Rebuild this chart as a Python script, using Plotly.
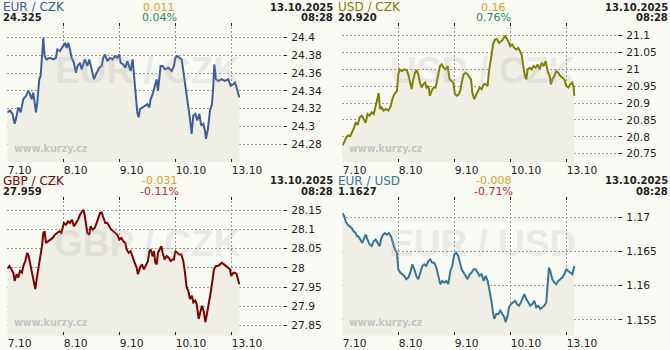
import plotly.graph_objects as go

# ---------------- data ----------------
day_labels = ["7.10", "8.10", "9.10", "10.10", "13.10"]
day_ticks = [0, 1, 2, 3, 4]

eurczk_t = [0.000,0.048,0.095,0.131,0.167,0.196,0.238,0.286,0.333,0.375,0.405,0.435,0.464,0.494,0.512,0.536,0.571,0.595,0.619,0.643,0.667,0.702,0.762,0.821,0.869,0.893,0.940,1.000,1.030,1.060,1.089,1.119,1.149,1.190,1.226,1.256,1.298,1.327,1.357,1.387,1.429,1.464,1.506,1.548,1.583,1.607,1.643,1.685,1.714,1.744,1.786,1.833,1.881,1.923,1.964,2.000,2.024,2.071,2.107,2.143,2.179,2.202,2.238,2.274,2.298,2.321,2.345,2.369,2.417,2.458,2.500,2.536,2.560,2.595,2.619,2.643,2.667,2.690,2.714,2.738,2.774,2.815,2.875,2.935,2.976,3.000,3.036,3.083,3.113,3.143,3.173,3.202,3.232,3.262,3.292,3.321,3.357,3.393,3.429,3.464,3.500,3.530,3.548,3.583,3.619,3.655,3.679,3.696,3.726,3.768,3.827,3.887,3.946,3.988,4.036,4.065,4.095,4.125,4.143]
eurczk_v = [24.3159,24.3178,24.3141,24.3030,24.3122,24.3215,24.3159,24.3307,24.3344,24.3400,24.3363,24.3307,24.3381,24.3196,24.3159,24.3270,24.3530,24.3567,24.3752,24.3993,24.3789,24.3752,24.3770,24.3752,24.3770,24.3863,24.3844,24.3900,24.3937,24.3881,24.3937,24.3863,24.3770,24.3715,24.3604,24.3678,24.3715,24.3641,24.3696,24.3752,24.3678,24.3752,24.3641,24.3530,24.3585,24.3622,24.3659,24.3678,24.3770,24.3807,24.3733,24.3770,24.3752,24.3789,24.3770,24.3807,24.3715,24.3696,24.3659,24.3733,24.3678,24.3622,24.3752,24.3493,24.3344,24.3159,24.3104,24.3196,24.3215,24.3233,24.3252,24.3215,24.3307,24.3363,24.3419,24.3493,24.3530,24.3400,24.3567,24.3678,24.3678,24.3641,24.3659,24.3622,24.3678,24.3770,24.3789,24.3770,24.3752,24.3622,24.3493,24.3344,24.3233,24.3085,24.2919,24.3122,24.3141,24.3067,24.3141,24.3011,24.3030,24.2956,24.2863,24.2974,24.3178,24.3252,24.3456,24.3696,24.3530,24.3511,24.3530,24.3511,24.3530,24.3456,24.3474,24.3493,24.3437,24.3381,24.3326]

usdczk_t = [0.000,0.036,0.071,0.107,0.143,0.179,0.214,0.238,0.274,0.310,0.345,0.381,0.417,0.452,0.488,0.524,0.560,0.583,0.619,0.649,0.673,0.702,0.738,0.774,0.821,0.869,0.893,0.929,0.976,1.000,1.024,1.060,1.107,1.149,1.179,1.214,1.238,1.262,1.298,1.327,1.357,1.387,1.417,1.446,1.476,1.506,1.536,1.565,1.595,1.631,1.667,1.690,1.714,1.744,1.774,1.810,1.845,1.881,1.917,1.952,1.982,2.012,2.048,2.083,2.107,2.131,2.167,2.202,2.238,2.274,2.298,2.321,2.357,2.381,2.417,2.452,2.488,2.524,2.560,2.595,2.619,2.643,2.667,2.690,2.726,2.762,2.798,2.833,2.869,2.905,2.935,2.964,3.000,3.036,3.071,3.107,3.143,3.173,3.202,3.232,3.262,3.286,3.310,3.345,3.381,3.417,3.452,3.488,3.524,3.560,3.595,3.631,3.667,3.702,3.726,3.750,3.786,3.821,3.857,3.893,3.929,3.964,4.000,4.036,4.071,4.107,4.131,4.143]
usdczk_v = [20.7745,20.7843,20.7990,20.8039,20.8020,20.8137,20.8284,20.8431,20.8353,20.8578,20.8627,20.8529,20.8412,20.8676,20.8627,20.8725,20.8676,20.8824,20.9118,20.9294,20.8824,20.8873,20.8775,20.8824,20.8775,20.8922,20.9118,20.9265,20.9363,20.9853,21.0000,20.9951,21.0000,20.9980,20.9853,20.9608,20.9412,20.9657,20.9902,20.9980,20.9853,20.9608,20.9461,20.9559,20.9608,20.9461,20.9510,20.9216,20.9363,20.9461,20.9461,20.9657,20.9902,21.0098,21.0147,21.0049,21.0000,21.0098,20.9706,20.9657,20.9608,20.9265,20.9216,20.9265,20.9363,20.9608,20.9853,20.9902,20.9853,20.9755,20.9706,20.9314,20.9118,20.9216,20.9363,20.9461,20.9412,20.9559,20.9559,20.9510,20.9951,21.0147,21.0441,21.0735,21.0882,21.0902,21.0784,21.0833,21.0882,21.1000,21.0931,21.0833,21.0686,21.0735,21.0637,21.0588,21.0637,21.0539,21.0441,21.0098,20.9804,20.9706,21.0000,21.0049,21.0000,21.0098,21.0049,21.0147,21.0000,21.0196,21.0098,21.0245,20.9951,20.9804,20.9559,20.9706,20.9804,20.9951,20.9902,20.9804,20.9755,20.9706,20.9510,20.9461,20.9559,20.9608,20.9461,20.9216]

gbpczk_t = [0.000,0.036,0.071,0.107,0.131,0.167,0.196,0.226,0.262,0.286,0.321,0.357,0.381,0.405,0.429,0.452,0.476,0.500,0.524,0.560,0.595,0.619,0.643,0.667,0.690,0.732,0.774,0.810,0.851,0.893,0.929,0.964,0.988,1.012,1.048,1.083,1.119,1.155,1.190,1.226,1.262,1.298,1.333,1.357,1.381,1.405,1.429,1.464,1.488,1.524,1.560,1.595,1.631,1.655,1.685,1.714,1.750,1.786,1.821,1.857,1.893,1.929,1.964,2.000,2.036,2.071,2.107,2.131,2.167,2.202,2.238,2.274,2.310,2.333,2.369,2.405,2.440,2.476,2.512,2.536,2.560,2.595,2.619,2.643,2.667,2.690,2.726,2.750,2.774,2.810,2.845,2.881,2.917,2.952,2.976,3.000,3.036,3.071,3.107,3.143,3.173,3.202,3.232,3.262,3.298,3.321,3.357,3.381,3.417,3.440,3.476,3.512,3.536,3.560,3.595,3.631,3.667,3.690,3.726,3.762,3.798,3.833,3.869,3.905,3.940,3.976,4.000,4.036,4.071,4.095,4.119,4.143]
gbpczk_v = [27.9978,28.0047,27.9961,27.9875,27.9660,27.9832,27.9746,27.9918,27.9875,28.0047,28.0176,28.0391,28.0305,28.0133,27.9918,27.9789,27.9531,27.9445,27.9703,28.0004,28.0391,28.0563,28.0907,28.0950,28.0649,28.0692,28.0735,28.0778,28.0864,28.0924,28.0950,28.0907,28.1079,28.1165,28.1122,28.1208,28.1165,28.1251,28.1079,28.1165,28.1251,28.1380,28.1466,28.1509,28.1380,28.1165,28.0907,28.0864,28.1079,28.0993,28.1036,28.1165,28.1294,28.1423,28.1440,28.1294,28.1165,28.1165,28.1079,28.0993,28.0950,28.0907,28.0864,28.0735,28.0778,28.0692,28.0649,28.0477,28.0391,28.0434,28.0262,28.0133,28.0004,27.9832,28.0004,28.0090,27.9961,28.0090,28.0176,28.0434,28.0477,28.0305,28.0434,28.0133,28.0090,28.0391,28.0520,28.0563,28.0391,28.0219,28.0305,28.0262,28.0176,28.0219,28.0219,28.0434,28.0391,28.0348,28.0348,28.0176,27.9875,27.9488,27.9402,27.9187,27.9273,27.9101,27.9144,27.9058,27.8671,27.8843,27.9015,27.8843,27.8585,27.8757,27.9015,27.9359,27.9703,27.9961,28.0047,28.0047,28.0090,28.0133,28.0090,28.0047,28.0004,27.9961,27.9789,27.9875,27.9875,27.9832,27.9703,27.9574]

eurusd_t = [0.000,0.036,0.060,0.095,0.131,0.167,0.202,0.238,0.262,0.286,0.321,0.357,0.393,0.417,0.452,0.488,0.524,0.560,0.595,0.631,0.667,0.690,0.726,0.762,0.798,0.833,0.869,0.905,0.940,0.976,1.000,1.036,1.071,1.107,1.143,1.179,1.214,1.250,1.286,1.321,1.357,1.393,1.429,1.464,1.500,1.536,1.571,1.607,1.643,1.679,1.714,1.750,1.786,1.821,1.857,1.893,1.929,1.964,2.000,2.036,2.071,2.107,2.131,2.167,2.202,2.238,2.274,2.310,2.345,2.381,2.417,2.452,2.488,2.524,2.560,2.595,2.619,2.643,2.667,2.690,2.714,2.750,2.786,2.821,2.857,2.893,2.917,2.952,2.976,3.012,3.048,3.083,3.119,3.155,3.190,3.226,3.250,3.286,3.321,3.357,3.393,3.429,3.464,3.500,3.536,3.571,3.607,3.643,3.667,3.690,3.714,3.750,3.786,3.821,3.857,3.893,3.929,3.964,4.000,4.036,4.071,4.107,4.131,4.143]
eurusd_v = [1.17063,1.17015,1.16942,1.16894,1.16869,1.16845,1.16797,1.16773,1.16724,1.16724,1.16676,1.16627,1.16700,1.16748,1.16676,1.16603,1.16579,1.16652,1.16676,1.16627,1.16579,1.16676,1.16748,1.16773,1.16748,1.16773,1.16724,1.16627,1.16531,1.16482,1.16240,1.16192,1.16168,1.16144,1.16095,1.16119,1.16192,1.16313,1.16240,1.16144,1.16095,1.16192,1.16289,1.16313,1.16289,1.16361,1.16385,1.16337,1.16337,1.16265,1.16119,1.16023,1.16071,1.16047,1.16071,1.16023,1.16216,1.16289,1.16458,1.16482,1.16434,1.16337,1.16240,1.16192,1.16144,1.16095,1.16168,1.16192,1.16240,1.16240,1.16192,1.16144,1.16168,1.16071,1.16144,1.16071,1.15974,1.15877,1.15756,1.15611,1.15515,1.15587,1.15587,1.15636,1.15587,1.15539,1.15466,1.15563,1.15684,1.15732,1.15756,1.15781,1.15732,1.15708,1.15756,1.15829,1.15877,1.15805,1.15756,1.15708,1.15732,1.15781,1.15684,1.15708,1.15660,1.15684,1.15708,1.15756,1.16095,1.16265,1.16216,1.16095,1.16047,1.16023,1.16071,1.16095,1.16119,1.16168,1.16240,1.16216,1.16192,1.16168,1.16240,1.16289]

names = ["EUR / CZK", "USD / CZK", "GBP / CZK", "EUR / USD"]
last_values = ["24.325", "20.920", "27.959", "1.1627"]
changes = ["0.011", "0.16", "-0.031", "-0.008"]
changes_pct = ["0.04%", "0.76%", "-0.11%", "-0.71%"]
update_date = "13.10.2025"
update_time = "08:28"

ticks_eurczk = [24.28, 24.3, 24.32, 24.34, 24.36, 24.38, 24.4]
ticks_usdczk = [20.75, 20.8, 20.85, 20.9, 20.95, 21, 21.05, 21.1]
ticks_gbpczk = [27.85, 27.9, 27.95, 28, 28.05, 28.1, 28.15]
ticks_eurusd = [1.155, 1.16, 1.165, 1.17]

# ---------------- styling ----------------
W, H = 670, 350
PAPER = "#fafaf5"
FILL = "#efefe6"
GRID = "#9a9a9a"
TXT = "#222222"
FONT = "DejaVu Sans, Verdana, sans-serif"
line_colors = ["#3f5d96", "#808000", "#800000", "#3a7596"]
up_col, down_col, chg_col = "#2e8b57", "#c82828", "#e0a020"

series = [(eurczk_t, eurczk_v, ticks_eurczk, [24.2604, 24.4159]),
          (usdczk_t, usdczk_v, ticks_usdczk, [20.7255, 21.1373]),
          (gbpczk_t, gbpczk_v, ticks_gbpczk, [27.8242, 28.1853]),
          (eurusd_t, eurusd_v, ticks_eurusd, [1.15273, 1.17305])]

offsets = [(0, 0), (335, 0), (0, 175), (335, 175)]
PL, PR, PT, PB = 7.3, 287.3, 23.3, 163.3   # plot box inside a panel (px)

fig = go.Figure()
annotations = []
layout = {}

def px_x(p):
    return p / W

def px_y(p):
    return 1 - p / H

for i, ((t, v, tv, yr), (ox, oy)) in enumerate(zip(series, offsets)):
    k = "" if i == 0 else str(i + 1)
    fig.add_trace(go.Scatter(
        x=t, y=v, mode="lines", line=dict(color=line_colors[i], width=2),
        fill="tozeroy", fillcolor=FILL, xaxis="x" + k, yaxis="y" + k,
        hoverinfo="skip", showlegend=False))
    layout["xaxis" + k] = dict(
        domain=[px_x(ox + PL), px_x(ox + PR)], range=[0, 5], anchor="y" + k,
        tickvals=day_ticks, ticktext=day_labels, showgrid=True, gridcolor=GRID,
        griddash="2px,2px", gridwidth=1, zeroline=False, showline=False,
        ticks="inside", ticklen=3, tickcolor=TXT, tickwidth=1, mirror="ticks",
        ticklabelposition="outside right",
        tickfont=dict(family=FONT, size=10.67, color=TXT), fixedrange=True)
    layout["yaxis" + k] = dict(
        domain=[px_y(oy + PB), px_y(oy + PT)], range=yr, anchor="x" + k,
        side="right", tickvals=tv, showgrid=True, gridcolor=GRID,
        griddash="2px,2px", gridwidth=1, zeroline=False, showline=False,
        ticks="inside", ticklen=3, tickcolor=TXT, tickwidth=1,
        ticklabelstandoff=3,
        tickfont=dict(family=FONT, size=10.67, color=TXT), fixedrange=True)

    neg = changes[i].startswith("-")
    pct_col = down_col if neg else up_col
    # watermark
    annotations.append(dict(x=px_x(ox + 147), y=px_y(oy + 71), xref="paper", yref="paper",
                            text=names[i], showarrow=False, xanchor="center", yanchor="middle",
                            font=dict(family="Liberation Sans, Arial, sans-serif", size=37,
                                      color="rgba(160,160,160,0.2)", weight="bold")))
    annotations.append(dict(x=px_x(ox + 12), y=px_y(oy + 150), xref="paper", yref="paper",
                            text="www.kurzy.cz", showarrow=False, xanchor="left", yanchor="middle",
                            font=dict(family=FONT, size=9.6, color="#c4c4c4", weight="bold")))
    # header
    annotations.append(dict(x=px_x(ox + 1), y=px_y(oy + 7.5), xref="paper", yref="paper",
                            text=names[i], showarrow=False, xanchor="left", yanchor="middle",
                            font=dict(family=FONT, size=12, color=line_colors[i])))
    annotations.append(dict(x=px_x(ox + 1), y=px_y(oy + 18), xref="paper", yref="paper",
                            text=last_values[i], showarrow=False, xanchor="left", yanchor="middle",
                            font=dict(family=FONT, size=10, color=TXT, weight="bold")))
    annotations.append(dict(x=px_x(ox + 159), y=px_y(oy + 7.5), xref="paper", yref="paper",
                            text=changes[i], showarrow=False, xanchor="center", yanchor="middle",
                            font=dict(family=FONT, size=11, color=chg_col)))
    annotations.append(dict(x=px_x(ox + 159), y=px_y(oy + 18), xref="paper", yref="paper",
                            text=changes_pct[i], showarrow=False, xanchor="center", yanchor="middle",
                            font=dict(family=FONT, size=11, color=pct_col)))
    annotations.append(dict(x=px_x(ox + 335), y=px_y(oy + 7.5), xref="paper", yref="paper",
                            text=update_date, showarrow=False, xanchor="right", yanchor="middle",
                            font=dict(family=FONT, size=10, color=TXT, weight="bold")))
    annotations.append(dict(x=px_x(ox + 335), y=px_y(oy + 18), xref="paper", yref="paper",
                            text=update_time, showarrow=False, xanchor="right", yanchor="middle",
                            font=dict(family=FONT, size=10, color=TXT, weight="bold")))

fig.update_layout(width=W, height=H, margin=dict(l=0, r=0, t=0, b=0),
                  paper_bgcolor=PAPER, plot_bgcolor=PAPER, annotations=annotations,
                  showlegend=False, **layout)
fig.write_html("out.html", config={"displayModeBar": False})
